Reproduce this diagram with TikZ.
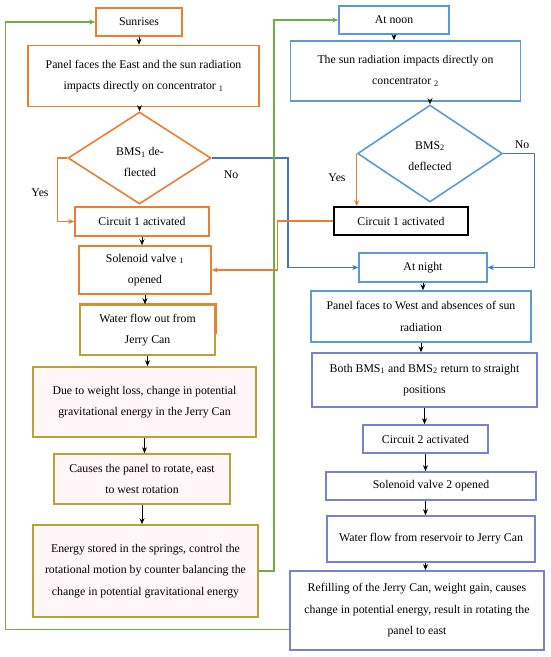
\documentclass[tikz,border=0pt]{standalone}
\usepackage{fontspec}
\setmainfont{Liberation Serif}
\usetikzlibrary{shapes.geometric,arrows.meta}
\definecolor{orng}{HTML}{ED7D31}
\definecolor{skyb}{HTML}{5B9BD5}
\definecolor{deepb}{HTML}{4472C4}
\definecolor{lilac}{HTML}{7584D2}
\definecolor{mustard}{HTML}{BCA236}
\definecolor{leaf}{HTML}{70AD47}
\definecolor{blush}{HTML}{FFF6F9}
\tikzset{
  box/.style={draw=#1,line width=1.6pt,align=center,inner sep=2pt,fill=white},
  dia/.style={diamond,draw=#1,line width=1.6pt,inner sep=0pt},
  flow/.style={->,line width=0.8pt},
  link/.style={->,line width=1.4pt,draw=#1},
}

\begin{document}
\begin{tikzpicture}[x=1pt,y=-1pt,>={Stealth[length=6pt,width=5pt]},every node/.style={font=\fontsize{11.8}{21.5}\selectfont}]
  \useasboundingbox (0,0) rectangle (550,657);
  % left column: daytime, east side
  \node[box=orng,minimum width=86pt,minimum height=28pt] (sun) at (139,22) {Sunrises};
  \node[box=orng,minimum width=231pt,minimum height=61pt] (east) at (143.5,76)
    {Panel faces the East and the sun radiation\\impacts directly on concentrator \textsubscript{1}};
  \node[dia=orng,minimum width=143pt,minimum height=92pt] (bms1) at (139.5,158) {};
  \node[align=center] at (140,162) {BMS\textsubscript{1} de-\\flected};
  \node[box=orng,minimum width=134pt,minimum height=29pt] (circ1L) at (142,221.5) {Circuit 1 activated};
  \node[box=orng,minimum width=132pt,minimum height=48pt] (sol1) at (145,270)
    {Solenoid valve \textsubscript{1}\\opened};
  \node[box=mustard,minimum width=135pt,minimum height=50pt] (water1) at (147.5,330)
    {Water flow out from\\Jerry Can};
  \draw[orng,line width=1.6pt] (water1.north west) -- (water1.north east) -- ([yshift=-30pt]water1.north east);
  \node[box=mustard,fill=blush,minimum width=223pt,minimum height=70pt] (due) at (144.5,402)
    {Due to weight loss, change in potential\\gravitational energy in the Jerry Can};
  \node[box=mustard,fill=blush,minimum width=176pt,minimum height=50pt] (causes) at (142,479)
    {Causes the panel to rotate, east\\to west rotation};
  \node[box=mustard,fill=blush,minimum width=225pt,minimum height=92pt] (energy) at (145.5,571)
    {Energy stored in the springs, control the\\rotational motion by counter balancing the\\change in potential gravitational energy};

  % right column: noon and night
  \node[box=skyb,minimum width=110pt,minimum height=28pt] (noon) at (394,20) {At noon};
  \node[box=skyb,minimum width=230pt,minimum height=60pt] (sunrad) at (405.5,71)
    {The sun radiation impacts directly on\\concentrator \textsubscript{2}};
  \node[dia=skyb,minimum width=145pt,minimum height=97pt] (bms2) at (430,153.5) {};
  \node[align=center] at (430,156) {BMS\textsubscript{2}\\deflected};
  \node[box=black,minimum width=134pt,minimum height=28pt] (circ1R) at (401,221) {Circuit 1 activated};
  \node[box=skyb,minimum width=128pt,minimum height=29pt] (night) at (423,267.5) {At night};
  \node[box=skyb,minimum width=220pt,minimum height=51pt] (west) at (421,316.5)
    {Panel faces to West and absences of sun\\radiation};
  \node[box=lilac,minimum width=225pt,minimum height=54pt] (both) at (424.5,380)
    {Both BMS\textsubscript{1} and BMS\textsubscript{2} return to straight\\positions};
  \node[box=lilac,minimum width=125pt,minimum height=28pt] (circ2) at (425.5,439) {Circuit 2 activated};
  \node[box=lilac,minimum width=210pt,minimum height=28pt] (sol2) at (431,486) {Solenoid valve 2 opened};
  \node[box=lilac,minimum width=208pt,minimum height=46pt] (water2) at (431,539)
    {Water flow from reservoir to Jerry Can};
  \node[box=lilac,minimum width=254pt,minimum height=79pt] (refill) at (417,610.5)
    {Refilling of the Jerry Can, weight gain, causes\\change in potential energy, result in rotating the\\panel to east};

  % straight flow
  \draw[flow] (sun) -- (sun |- east.north);
  \draw[flow] (bms1.north |- east.south) -- (bms1.north);
  \draw[flow] (circ1L) -- (circ1L |- sol1.north);
  \draw[flow] (sol1) -- (sol1 |- water1.north);
  \draw[flow] (water1) -- (water1 |- due.north);
  \draw[flow] (due) -- (due |- causes.north);
  \draw[flow] (causes) -- (causes |- energy.north);
  \draw[flow] (noon) -- (noon |- sunrad.north);
  \draw[flow] (bms2.north |- sunrad.south) -- (bms2.north);
  \draw[flow] (night) -- (night |- west.north);
  \draw[flow] (west) -- (west |- both.north);
  \draw[flow] (both) -- (both |- circ2.north);
  \draw[flow] (circ2.south) -- (circ2.south |- sol2.north);
  \draw[flow] (sol2.south -| circ2) -- (circ2 |- water2.north);
  \draw[flow] (water2.south -| circ2) -- (circ2 |- refill.north);

  % decisions and loops
  \draw[link=orng] (bms1.west) -- ++(-10,0) |- (circ1L.west);
  \draw[link=deepb] (bms1.east) -- ++(76,0) |- (night.west);
  \draw[link=orng] (bms2.west) -- (bms2.west |- circ1R.north);
  \draw[link=orng] (circ1R.west) -- ++(-56,0) |- (sol1.east);
  \draw[link=deepb] (bms2.east) -- ++(31,0) |- (night.east);
  \draw[link=leaf] (energy.east) -- ++(15,0) |- (noon.west);
  \draw[link=leaf] ([yshift=-19pt]refill.west) -- ++(-284,0) |- (sun.west);

  \node (yes1) at (40,193) {Yes};
  \node (no1) at (231,175) {No};
  \node (yes2) at (337,178) {Yes};
  \node (no2) at (522,145) {No};
\end{tikzpicture}
\end{document}
